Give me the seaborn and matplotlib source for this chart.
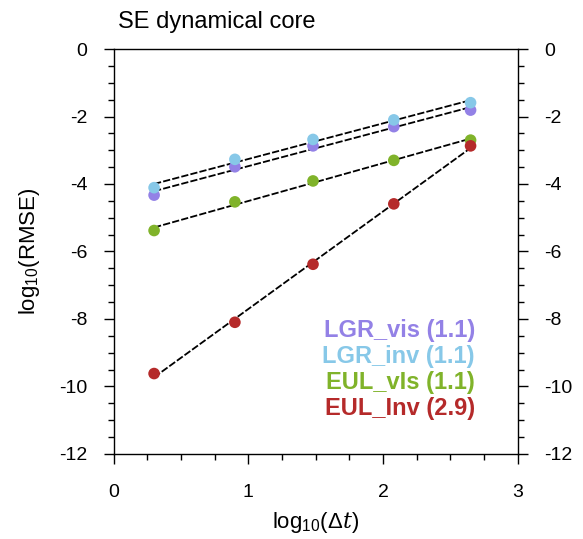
import numpy as np
import pandas as pd
import matplotlib
matplotlib.use('Agg')
import matplotlib.pyplot as plt
import seaborn as sns
from matplotlib.ticker import MultipleLocator

# log10(dt)
log_dt = [0.30, 0.90, 1.48, 2.08, 2.65]

# log10(RMSE) per scheme
lgr_vis = [-4.33, -3.49, -2.87, -2.30, -1.81]
lgr_inv = [-4.11, -3.27, -2.68, -2.10, -1.59]
eul_vis = [-5.38, -4.53, -3.91, -3.30, -2.70]
eul_inv = [-9.62, -8.10, -6.38, -4.59, -2.87]

names = ['LGR_vis', 'LGR_inv', 'EUL_vis', 'EUL_inv']
labels = ['LGR_vis (1.1)', 'LGR_inv (1.1)', 'EUL_vIs (1.1)', 'EUL_Inv (2.9)']
colors = ['#9381E6', '#87C8E8', '#80B32A', '#B52A2A']

sns.set_theme(style='ticks')
plt.rcParams['font.family'] = ['Liberation Sans', 'DejaVu Sans']
plt.rcParams['axes.unicode_minus'] = False
plt.rcParams['text.color'] = 'black'
plt.rcParams['axes.labelcolor'] = 'black'
plt.rcParams['xtick.color'] = 'black'
plt.rcParams['ytick.color'] = 'black'
plt.rcParams['mathtext.fontset'] = 'custom'
plt.rcParams['mathtext.rm'] = 'Liberation Sans'
plt.rcParams['mathtext.it'] = 'DejaVu Serif:italic'

df = pd.DataFrame({
    'x': log_dt * 4,
    'y': lgr_vis + lgr_inv + eul_vis + eul_inv,
    'scheme': [n for n in names for _ in log_dt],
})

fig = plt.figure(figsize=(5.83, 5.39), dpi=100)
ax = fig.add_axes([0.195, 0.158, 0.693, 0.751])

# least-squares fit lines
for n in names:
    sub = df[df['scheme'] == n]
    k, b = np.polyfit(sub['x'], sub['y'], 1)
    xs = np.array([sub['x'].min(), sub['x'].max()])
    ax.plot(xs, k * xs + b, color='black', lw=1.3, ls=(0, (4, 1.2)), zorder=2)

sns.scatterplot(data=df, x='x', y='y', hue='scheme', palette=colors,
                s=70, linewidth=0, legend=False, ax=ax, zorder=3)

ax.set_xlim(0, 3)
ax.set_ylim(-12, 0)
ax.xaxis.set_major_locator(MultipleLocator(1))
ax.xaxis.set_minor_locator(MultipleLocator(0.25))
ax.yaxis.set_major_locator(MultipleLocator(2))
ax.yaxis.set_minor_locator(MultipleLocator(0.5))
ax.tick_params(axis='both', which='major', direction='out', length=7, width=1,
               labelsize=14, color='black', labelcolor='black')
ax.tick_params(axis='x', which='major', pad=15)
ax.tick_params(axis='y', which='major', pad=12, right=True, labelright=True)
ax.tick_params(axis='both', which='minor', direction='out', length=4, width=1,
               color='black')
ax.tick_params(axis='y', which='minor', right=True)
for s in ax.spines.values():
    s.set_visible(True)
    s.set_color('black')
    s.set_linewidth(1)

ax.set_xlabel(r'log$_{10}$($\Delta t$)', fontsize=16, labelpad=6)
ax.set_ylabel('log$_{10}$(RMSE)', fontsize=16, labelpad=12)

fig.text(118 / 583, 1 - 22 / 539, 'SE dynamical core', fontsize=17,
         ha='left', va='center', color='black')

for i, (lab, c) in enumerate(zip(labels, colors)):
    fig.text(475 / 583, 1 - (331 + 26 * i) / 539, lab, color=c,
             fontsize=17, fontweight='bold', ha='right', va='center')

fig.savefig('out.png', dpi=100)
